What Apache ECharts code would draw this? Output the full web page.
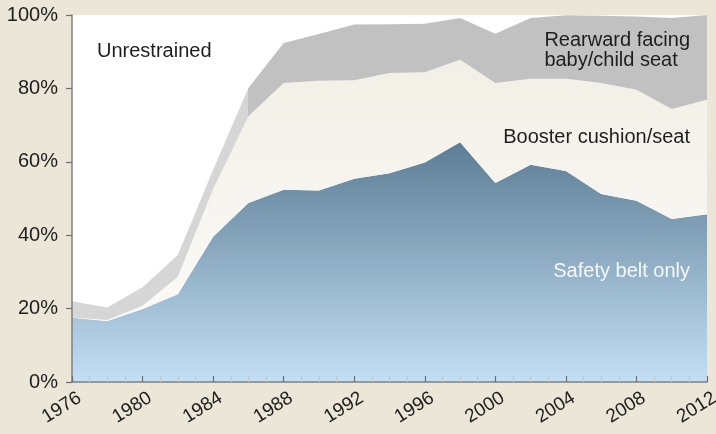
<!DOCTYPE html>
<html>
<head>
<meta charset="utf-8">
<script src="https://cdn.jsdelivr.net/npm/echarts@6/dist/echarts.min.js"></script>
<style>
  html, body { margin: 0; padding: 0; background: #ebe6d7; }
  #chart { width: 716px; height: 434px; }
</style>
</head>
<body>
<div id="chart"></div>
<script>
// share of children by restraint type, in percent
const years = [1976, 1978, 1980, 1982, 1984, 1986, 1988, 1990, 1992, 1994, 1996, 1998, 2000, 2002, 2004, 2006, 2008, 2010, 2012];
const beltOnly = [17.5, 16.6, 19.9, 23.9, 39.6, 48.8, 52.4, 52.2, 55.4, 56.9, 59.8, 65.3, 54.2, 59.2, 57.5, 51.2, 49.4, 44.4, 45.7];
const booster = [0.1, 0.3, 0.9, 4.8, 12.9, 23.6, 29.1, 29.9, 26.8, 27.3, 24.6, 22.5, 27.3, 23.4, 25.1, 30.3, 30.2, 30.0, 31.2];
const rearward = [4.4, 3.4, 5.0, 5.9, 5.3, 7.7, 10.9, 12.7, 15.2, 13.3, 13.2, 11.4, 13.4, 16.6, 17.3, 18.3, 20.0, 24.8, 23.1];
const yTicks = [0, 20, 40, 60, 80, 100];

const font = '"Liberation Sans", Arial, sans-serif';

const chart = echarts.init(document.getElementById('chart'));

const option = {
    backgroundColor: '#ebe6d7',
    animation: false,
    grid: {
        left: 72, right: 9, top: 15, bottom: 52,
        containLabel: false, outerBoundsMode: 'none',
        show: true, backgroundColor: '#ffffff', borderWidth: 0
    },
    xAxis: [
        {
            // data axis, hidden
            type: 'category', data: years, boundaryGap: false,
            position: 'bottom', show: false
        },
        {
            // visible year axis with yearly minor ticks
            type: 'value', position: 'bottom',
            min: 1976, max: 2012, interval: 4,
            z: 10,
            axisLine: { lineStyle: { color: '#808080', width: 1.5 } },
            axisTick: { inside: true, length: 6, lineStyle: { color: '#6f6f6f', width: 1.2 } },
            minorTick: { show: true, splitNumber: 4, length: 6, lineStyle: { color: '#c4c4c4', width: 1.2 } },
            splitLine: { show: false },
            axisLabel: {
                rotate: 32, margin: 8, verticalAlign: 'top',
                padding: [0, -3, 0, 0],
                color: '#1e1e1e', fontSize: 19, fontFamily: font,
                formatter: v => String(v)
            }
        }
    ],
    yAxis: {
        type: 'value',
        min: 0, max: 100, interval: 20,
        z: 10,
        axisLine: { show: true, lineStyle: { color: '#808080', width: 1.5 } },
        axisTick: { show: true, length: 6, lineStyle: { color: '#6f6f6f', width: 1.2 } },
        splitLine: { show: false },
        axisLabel: {
            margin: 14,
            color: '#1e1e1e', fontSize: 20, fontFamily: font,
            formatter: v => yTicks.includes(v) ? v + '%' : ''
        }
    },
    series: [
        {
            name: 'Safety belt only', type: 'line', stack: 'all', xAxisIndex: 0,
            data: beltOnly, symbol: 'none', lineStyle: { width: 0 },
            areaStyle: {
                opacity: 1,
                color: new echarts.graphic.LinearGradient(0, 0, 0, 1, [
                    { offset: 0, color: '#5c7d95' },
                    { offset: 1, color: '#c3dff4' }
                ])
            }
        },
        {
            name: 'Booster cushion/seat', type: 'line', stack: 'all', xAxisIndex: 0,
            data: booster, symbol: 'none', lineStyle: { width: 0 },
            areaStyle: {
                opacity: 1,
                color: new echarts.graphic.LinearGradient(0, 0, 0, 1, [
                    { offset: 0, color: '#f2efe6' },
                    { offset: 1, color: '#fbfaf7' }
                ])
            }
        },
        {
            name: 'Rearward facing baby/child seat', type: 'line', stack: 'all', xAxisIndex: 0,
            data: rearward, symbol: 'none', lineStyle: { width: 0 },
            areaStyle: {
                opacity: 1,
                // lighter grey before 1986
                color: new echarts.graphic.LinearGradient(0, 0, 1, 0, [
                    { offset: 0, color: '#d6d6d6' },
                    { offset: 0.2777, color: '#d6d6d6' },
                    { offset: 0.2778, color: '#c1c1c1' },
                    { offset: 1, color: '#c1c1c1' }
                ])
            }
        }
    ],
    graphic: [
        { type: 'text', left: 97, top: 41, z: 20,
          style: { text: 'Unrestrained', font: '20px ' + font, fill: '#1e1e1e' } },
        { type: 'text', right: 26, top: 30, z: 20,
          style: { text: 'Rearward facing\nbaby/child seat', font: '20px ' + font, fill: '#1e1e1e', align: 'right', lineHeight: 20 } },
        { type: 'text', right: 26, top: 127, z: 20,
          style: { text: 'Booster cushion/seat', font: '20px ' + font, fill: '#1e1e1e' } },
        { type: 'text', right: 26, top: 261, z: 20,
          style: { text: 'Safety belt only', font: '20px ' + font, fill: '#f4f8fb' } }
    ]
};

chart.setOption(option);
</script>
</body>
</html>
